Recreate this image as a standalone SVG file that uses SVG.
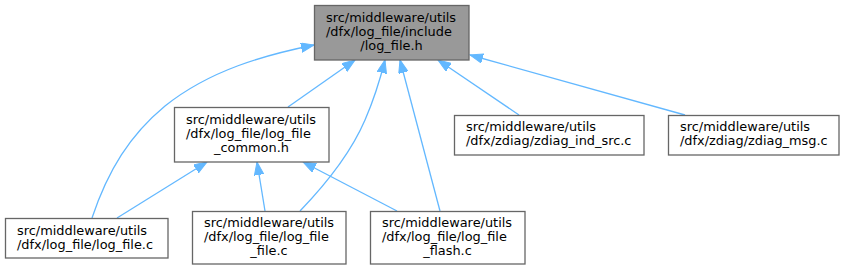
<svg xmlns="http://www.w3.org/2000/svg" width="844" height="271" viewBox="0 0 844 271">
<style>
  .box { fill: #ffffff; stroke: #666666; stroke-width: 1.3; }
  .root { fill: #999999; stroke: #666666; stroke-width: 1.3; }
  text { font-family: "DejaVu Sans", sans-serif; font-size: 12.9px; fill: #000000; }
  .c { text-anchor: middle; }
  .edge { fill: none; stroke: #63b8ff; stroke-width: 1.3; marker-end: url(#arr); }
</style>
<defs>
  <marker id="arr" markerUnits="userSpaceOnUse" markerWidth="14" markerHeight="10" refX="13" refY="4.75" orient="auto">
    <path d="M0,0 L13,4.75 L0,9.5 z" fill="#63b8ff" stroke="#63b8ff" stroke-width="1"/>
  </marker>
</defs>
<rect width="844" height="271" fill="#ffffff"/>
<g id="edges">
  <path class="edge" d="M92,218 C108,170 130,135 165,106 C210,70 265,55 314,45"/>
  <path class="edge" d="M288,107 L355,60"/>
  <path class="edge" d="M300,211 C325,185 350,155 365,120 C375,97 380,80 385,60"/>
  <path class="edge" d="M440,211 L400,60"/>
  <path class="edge" d="M519,115 L438,60"/>
  <path class="edge" d="M685,115 L470,55"/>
  <path class="edge" d="M117,218 L207,162"/>
  <path class="edge" d="M265,211 L257,162"/>
  <path class="edge" d="M397,211 L303,162"/>
</g>
<g id="node_root">
  <rect class="root" x="314.5" y="5.5" width="154.5" height="54.5"/>
  <text x="326" y="22">src/middleware/utils</text>
  <text x="326" y="36">/dfx/log_file/include</text>
  <text class="c" x="391.5" y="50">/log_file.h</text>
</g>
<g id="node_common">
  <rect class="box" x="174.5" y="107.5" width="154.5" height="54.5"/>
  <text x="186" y="124">src/middleware/utils</text>
  <text x="186" y="138">/dfx/log_file/log_file</text>
  <text class="c" x="251.5" y="152">_common.h</text>
</g>
<g id="node_log_file_c">
  <rect class="box" x="5.5" y="218.5" width="162.5" height="39.5"/>
  <text x="17" y="234.5">src/middleware/utils</text>
  <text x="17" y="248.5">/dfx/log_file/log_file.c</text>
</g>
<g id="node_log_file_file_c">
  <rect class="box" x="192.5" y="211.5" width="153.5" height="52.5"/>
  <text x="204" y="227">src/middleware/utils</text>
  <text x="204" y="241">/dfx/log_file/log_file</text>
  <text class="c" x="269" y="255">_file.c</text>
</g>
<g id="node_log_file_flash_c">
  <rect class="box" x="370.5" y="211.5" width="154.5" height="52.5"/>
  <text x="382" y="227">src/middleware/utils</text>
  <text x="382" y="241">/dfx/log_file/log_file</text>
  <text class="c" x="447.5" y="255">_flash.c</text>
</g>
<g id="node_zdiag_ind_src_c">
  <rect class="box" x="454.5" y="115.5" width="189.5" height="39.5"/>
  <text x="466" y="131">src/middleware/utils</text>
  <text x="466" y="145">/dfx/zdiag/zdiag_ind_src.c</text>
</g>
<g id="node_zdiag_msg_c">
  <rect class="box" x="668.5" y="115.5" width="170.5" height="39.5"/>
  <text x="680" y="131">src/middleware/utils</text>
  <text x="680" y="145">/dfx/zdiag/zdiag_msg.c</text>
</g>
</svg>
